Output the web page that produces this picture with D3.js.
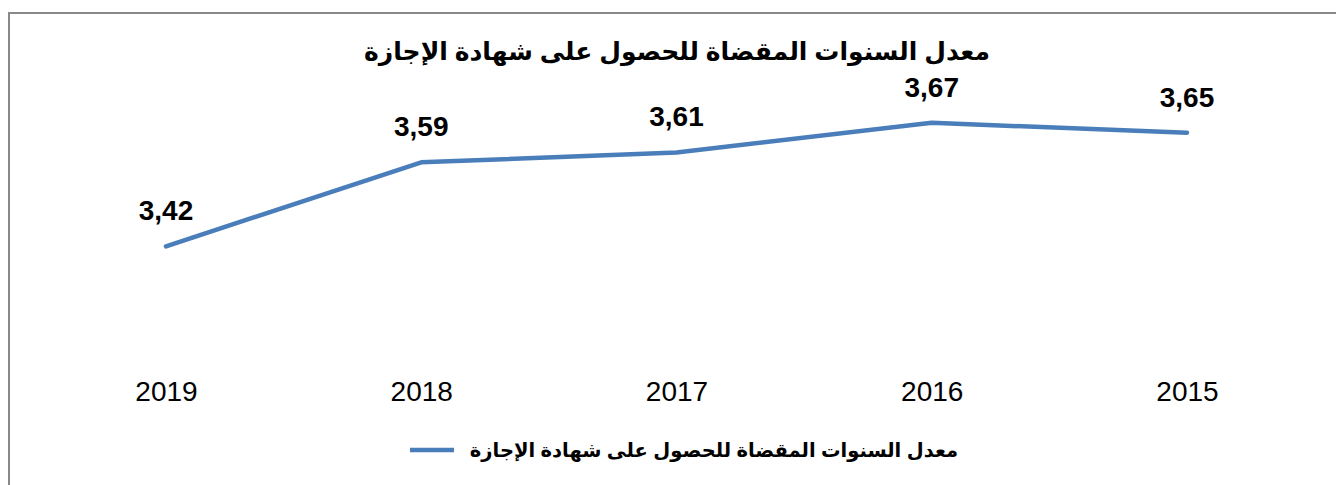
<!DOCTYPE html>
<html>
<head>
<meta charset="utf-8">
<script src="https://cdn.jsdelivr.net/npm/d3@7"></script>
<style>
  body { margin: 0; background: #fff; }
  svg { display: block; }
</style>
</head>
<body>
<script>
// chart data
const years = ["2019", "2018", "2017", "2016", "2015"];
const values = [3.42, 3.59, 3.61, 3.67, 3.65];
const valueLabels = ["3,42", "3,59", "3,61", "3,67", "3,65"];
const seriesName = "معدل السنوات المقضاة للحصول على شهادة الإجازة";
const title = "معدل السنوات المقضاة للحصول على شهادة الإجازة";

const w = 1336, h = 485;
const svg = d3.select("body").append("svg").attr("width", w).attr("height", h);

// outer frame (runs off the right and bottom edge)
svg.append("rect")
  .attr("x", 9).attr("y", 13)
  .attr("width", w + 20).attr("height", h + 20)
  .attr("fill", "none").attr("stroke", "#898989").attr("stroke-width", 2);

const x = d3.scalePoint().domain(years).range([166, 1187]);
const y = d3.scaleLinear().domain([3.2, 3.7]).range([355, 108]);

// title
svg.append("text")
  .attr("x", 677).attr("y", 60)
  .attr("text-anchor", "middle")
  .style("font-family", "Arial, 'DejaVu Sans', sans-serif")
  .style("font-weight", "bold").style("font-size", "25px")
  .text(title);

// line
const line = d3.line().x((d, i) => x(years[i])).y(d => y(d));
svg.append("path")
  .datum(values)
  .attr("d", line)
  .attr("fill", "none")
  .attr("stroke", "#4A7EBB")
  .attr("stroke-width", 4.5)
  .attr("stroke-linecap", "round")
  .attr("stroke-linejoin", "round");

// data labels
svg.selectAll(".lbl").data(values).enter().append("text")
  .attr("class", "lbl")
  .attr("x", (d, i) => x(years[i]))
  .attr("y", d => y(d) - 26)
  .attr("text-anchor", "middle")
  .style("font-family", "'Liberation Sans', Arial, sans-serif")
  .style("font-weight", "bold").style("font-size", "28px")
  .text((d, i) => valueLabels[i]);

// category axis (labels only)
const xAxis = svg.append("g")
  .attr("transform", "translate(0,381)")
  .call(d3.axisBottom(x).tickSize(0).tickPadding(0));
xAxis.select(".domain").remove();
xAxis.selectAll("text")
  .attr("dy", "0.71em")
  .style("font-family", "'Liberation Sans', Arial, sans-serif")
  .style("font-size", "28px")
  .attr("fill", "#000");

// legend
svg.append("line")
  .attr("x1", 410).attr("x2", 454)
  .attr("y1", 450).attr("y2", 450)
  .attr("stroke", "#4A7EBB").attr("stroke-width", 4.5);
svg.append("text")
  .attr("x", 958).attr("y", 457)
  .attr("text-anchor", "end")
  .style("font-family", "Arial, 'DejaVu Sans', sans-serif")
  .style("font-weight", "bold").style("font-size", "19.5px")
  .text(seriesName);
</script>
</body>
</html>
